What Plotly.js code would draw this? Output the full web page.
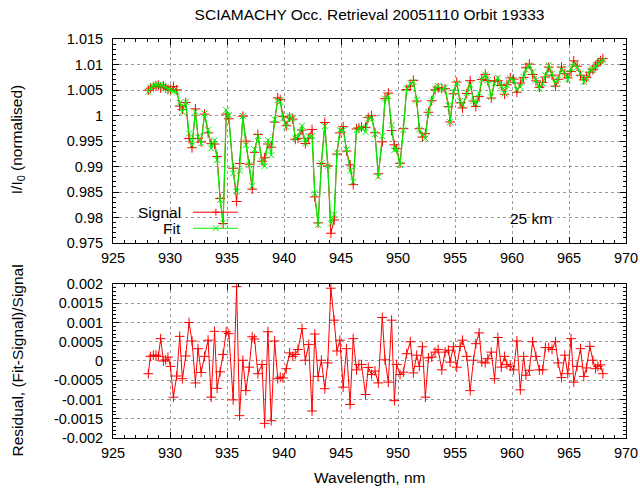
<!DOCTYPE html>
<html>
<head>
<meta charset="utf-8">
<script src="https://cdn.plot.ly/plotly-3.0.1.min.js"></script>
<style>html,body{margin:0;padding:0;background:#fff;}#chart{width:640px;height:490px;}</style>
</head>
<body>
<div id="chart"></div>
<script>
// Wavelength, nm
var wavelength = [928.10,928.28,928.54,928.77,928.98,929.18,929.42,929.62,929.82,930.04,930.30,930.59,930.85,931.09,931.38,931.67,931.93,932.23,932.46,932.73,933.03,933.34,933.61,933.91,934.13,934.40,934.66,934.93,935.16,935.54,935.84,936.10,936.39,936.66,936.95,937.21,937.42,937.71,938.07,938.30,938.59,938.88,939.18,939.45,939.67,939.91,940.20,940.50,940.77,940.99,941.23,941.58,941.87,942.17,942.46,942.70,942.99,943.28,943.58,943.84,944.11,944.40,944.64,944.90,945.19,945.48,945.80,946.07,946.36,946.57,946.80,947.15,947.39,947.68,947.98,948.27,948.62,948.86,949.15,949.44,949.68,949.88,950.18,950.47,950.76,951.08,951.35,951.64,951.87,952.14,952.40,952.67,952.96,953.25,953.52,953.84,954.13,954.42,954.57,954.86,955.15,955.45,955.66,956.03,956.33,956.62,956.83,957.12,957.35,957.65,957.88,958.18,958.47,958.76,959.06,959.35,959.55,959.85,960.14,960.43,960.73,961.02,961.22,961.52,961.81,962.10,962.40,962.69,962.93,963.22,963.51,963.81,964.04,964.34,964.63,964.89,965.18,965.42,965.71,966.01,966.30,966.53,966.83,967.09,967.33,967.53,967.77,967.97];

// I/I0 measured signal
var signal = [1.00496,1.00536,1.00565,1.00585,1.00594,1.00542,1.00580,1.00545,1.00512,1.00509,1.00570,1.00502,1.00184,1.00118,1.00254,0.99548,0.99368,1.00129,0.99551,0.99482,1.00027,0.99659,0.99448,0.99440,0.99197,0.98372,0.97883,1.00028,0.99935,0.98966,0.98314,0.99060,0.99985,0.99497,0.99044,0.98555,0.99278,0.99629,0.99103,0.99171,0.99441,0.99379,0.99870,1.00346,1.00309,0.99985,0.99798,0.99966,0.99929,0.99533,0.99553,0.99714,0.99450,0.99553,0.99726,0.98404,0.97895,0.99059,0.99863,0.99014,0.97692,0.97951,0.99244,0.99659,0.99781,0.99303,0.99031,0.98644,0.99736,0.99755,0.99774,0.99767,0.99958,0.99996,0.99661,0.98857,0.99483,1.00329,1.00440,0.99705,0.99425,0.99350,0.99063,0.99742,1.00509,1.00576,1.00689,1.00285,0.99740,0.99578,0.99644,1.00064,1.00290,1.00505,1.00544,1.00531,1.00525,1.00174,0.99873,1.00426,1.00655,1.00249,1.00148,1.00431,1.00683,1.00285,1.00177,1.00370,1.00707,1.00807,1.00685,1.00342,1.00672,1.00682,1.00590,1.00418,1.00602,1.00738,1.00714,1.00456,1.00636,1.00744,1.00937,1.01008,1.00804,1.00679,1.00551,1.00649,1.00754,1.00949,1.00791,1.00576,1.00709,1.00949,1.00819,1.00737,1.00861,1.01072,1.00966,1.00789,1.00698,1.00742,1.00849,1.00898,1.00972,1.01031,1.01073,1.01115];

// I/I0 fitted
var fit = [1.00463,1.00548,1.00580,1.00600,1.00606,1.00600,1.00580,1.00548,1.00522,1.00495,1.00476,1.00463,1.00248,1.00072,1.00267,0.99648,0.99420,1.00072,0.99583,0.99452,1.00039,0.99713,0.99354,0.99517,0.99126,0.98344,0.97900,1.00104,1.00006,0.98865,0.98507,0.98918,0.99987,0.99420,0.99028,0.98618,0.99335,0.99596,0.99094,0.99009,0.99517,0.99224,0.99922,1.00300,1.00267,0.99941,0.99778,0.99987,0.99941,0.99550,0.99583,0.99798,0.99452,0.99596,0.99596,0.98474,0.97855,0.99061,0.99791,0.99009,0.97881,0.98057,0.99270,0.99713,0.99713,0.99335,0.98918,0.98702,0.99713,0.99746,0.99765,0.99680,0.99941,0.99961,0.99635,0.98800,0.99596,1.00332,1.00385,0.99811,0.99322,0.99341,0.99028,0.99713,1.00528,1.00626,1.00658,1.00300,0.99726,0.99615,0.99550,1.00072,1.00300,1.00528,1.00574,1.00508,1.00548,1.00202,0.99870,1.00463,1.00639,1.00287,1.00202,1.00443,1.00606,1.00287,1.00222,1.00443,1.00704,1.00802,1.00691,1.00365,1.00626,1.00743,1.00574,1.00430,1.00593,1.00724,1.00691,1.00508,1.00561,1.00756,1.00900,1.00984,1.00854,1.00691,1.00528,1.00626,1.00789,1.00984,1.00821,1.00626,1.00704,1.00906,1.00834,1.00704,1.00919,1.01017,1.00952,1.00821,1.00658,1.00724,1.00887,1.00900,1.00952,1.01017,1.01063,1.01082];

// Residual (Fit-Signal)/Signal
var residual = [-0.00033,0.00012,0.00015,0.00015,0.00012,0.00058,0,0.00003,0.0001,-0.00014,-0.00094,-0.00039,0.00064,-0.00046,0.00013,0.001,0.00052,-0.00057,0.00032,-0.0003,0.00012,0.00054,-0.00094,0.00077,-0.00071,-0.00028,0.00017,0.00076,0.00071,-0.00101,0.00193,-0.00142,0.00002,-0.00077,-0.00016,0.00063,0.00057,-0.00033,-0.00009,-0.00162,0.00076,-0.00155,0.00052,-0.00046,-0.00042,-0.00044,-0.0002,0.00021,0.00012,0.00017,0.0003,0.00084,0.00002,0.00043,-0.0013,0.0007,-0.0004,0.00002,-0.00072,-0.00005,0.00189,0.00106,0.00026,0.00054,-0.00068,0.00032,-0.00113,0.00058,-0.00023,-0.00009,-0.00009,-0.00087,-0.00017,-0.00035,-0.00026,-0.00057,0.00113,0.00003,-0.00055,0.00106,-0.00103,-0.00009,-0.00035,-0.00029,0.00019,0.0005,-0.00031,0.00015,-0.00014,0.00037,-0.00094,0.00008,0.0001,0.00023,0.0003,-0.00023,0.00023,0.00028,-0.00003,0.00037,-0.00016,0.00038,0.00054,0.00012,-0.00077,0.00002,0.00045,0.00073,-0.00003,-0.00005,0.00006,0.00023,-0.00046,0.00061,-0.00016,0.00012,-0.00009,-0.00014,-0.00023,0.00052,-0.00075,0.00012,-0.00037,-0.00024,0.0005,0.00012,-0.00023,-0.00023,0.00035,0.00035,0.0003,0.0005,-0.00005,-0.00043,0.00015,-0.00033,0.00058,-0.00055,-0.00014,0.00032,-0.0004,-0.00018,0.00038,0.00002,-0.0002,-0.00014,-0.0001,-0.00033];

// Tick labels
var xTickVals = [925,930,935,940,945,950,955,960,965,970];
var xTickText = ["925","930","935","940","945","950","955","960","965","970"];
var yTopTickVals = [0.975,0.98,0.985,0.99,0.995,1,1.005,1.01,1.015];
var yTopTickText = ["0.975","0.98","0.985","0.99","0.995","1","1.005","1.01","1.015"];
var yBotTickVals = [-0.002,-0.0015,-0.001,-0.0005,0,0.0005,0.001,0.0015,0.002];
var yBotTickText = ["-0.002","-0.0015","-0.001","-0.0005","0","0.0005","0.001","0.0015","0.002"];

var FONT = "Liberation Sans, Arial, Helvetica, sans-serif";
var TICKSIZE = 14.5, TEXTSIZE = 15.5;
var RED = "#ff0000", GREEN = "#00ee00";

var traces = [
  {x: wavelength, y: signal, xaxis: "x", yaxis: "y", type: "scatter", mode: "lines+markers", name: "Signal",
   line: {color: RED, width: 1}, marker: {symbol: "cross-thin-open", size: 7, color: RED, line: {color: RED, width: 1}}},
  {x: wavelength, y: fit, xaxis: "x", yaxis: "y", type: "scatter", mode: "lines+markers", name: "Fit",
   line: {color: GREEN, width: 1.2}, marker: {symbol: "x-thin-open", size: 6, color: GREEN, line: {color: GREEN, width: 1}}},
  {x: wavelength, y: residual, xaxis: "x2", yaxis: "y2", type: "scatter", mode: "lines+markers", name: "Residual",
   line: {color: RED, width: 1}, marker: {symbol: "cross-thin-open", size: 7, color: RED, line: {color: RED, width: 1}}}
];

function xAxis(anchor) {
  return {anchor: anchor, domain: [0, 1], range: [925, 970], tickmode: "array", tickvals: xTickVals, ticktext: xTickText,
    ticks: "inside", ticklen: 6, tickcolor: "#000", mirror: "allticks", showline: true, linecolor: "#000", linewidth: 1,
    showgrid: true, gridcolor: "#9a9a9a", griddash: "dot", gridwidth: 1, zeroline: false, ticklabelstandoff: 2,
    tickfont: {family: FONT, size: TICKSIZE, color: "#000"},
    minor: {tickmode: "linear", tick0: 925, dtick: 1, ticks: "inside", ticklen: 3, tickcolor: "#000", showgrid: false}};
}
function yAxis(anchor, domain, range, vals, text, minorTick0, minorDtick) {
  return {anchor: anchor, domain: domain, range: range, tickmode: "array", tickvals: vals, ticktext: text,
    ticks: "inside", ticklen: 6, tickcolor: "#000", mirror: "allticks", showline: true, linecolor: "#000", linewidth: 1,
    showgrid: true, gridcolor: "#9a9a9a", griddash: "dot", gridwidth: 1, zeroline: false, ticklabelstandoff: 6,
    tickfont: {family: FONT, size: TICKSIZE, color: "#000"},
    minor: {tickmode: "linear", tick0: minorTick0, dtick: minorDtick, ticks: "inside", ticklen: 3, tickcolor: "#000", showgrid: false}};
}

var legX = 0.2006, legSigY = 0.5659, legFitY = 0.5257;
var layout = {
  width: 640, height: 490,
  margin: {l: 113, r: 14, t: 39, b: 52},
  paper_bgcolor: "#fff", plot_bgcolor: "#fff",
  showlegend: false,
  font: {family: FONT, size: TEXTSIZE, color: "#000"},
  title: {text: "SCIAMACHY Occ. Retrieval 20051110 Orbit 19333", font: {family: FONT, size: TEXTSIZE, color: "#000"},
          xref: "paper", x: 0.5, xanchor: "center", yref: "container", y: 0.970, yanchor: "middle"},
  xaxis: xAxis("y"),
  yaxis: yAxis("x", [0.4887, 1], [0.975, 1.015], yTopTickVals, yTopTickText, 0.975, 0.001),
  xaxis2: xAxis("y2"),
  yaxis2: yAxis("x2", [0, 0.386], [-0.002, 0.002], yBotTickVals, yBotTickText, -0.002, 0.0001),
  annotations: [
    {text: "I/I<sub>0</sub> (normalised)", xref: "paper", yref: "paper", x: -0.187, y: 0.7465, textangle: -90,
     showarrow: false, xanchor: "center", yanchor: "middle", font: {family: FONT, size: TEXTSIZE, color: "#000"}},
    {text: "Residual, (Fit-Signal)/Signal", xref: "paper", yref: "paper", x: -0.187, y: 0.1945, textangle: -90,
     showarrow: false, xanchor: "center", yanchor: "middle", font: {family: FONT, size: TEXTSIZE, color: "#000"}},
    {text: "Wavelength, nm", xref: "paper", yref: "paper", x: 0.5, y: -0.0991, showarrow: false,
     xanchor: "center", yanchor: "middle", font: {family: FONT, size: TEXTSIZE, color: "#000"}},
    {text: "Signal", xref: "paper", yref: "paper", x: 0.1363, y: legSigY, showarrow: false,
     xanchor: "right", yanchor: "middle", font: {family: FONT, size: TEXTSIZE, color: "#000"}},
    {text: "Fit", xref: "paper", yref: "paper", x: 0.1363, y: legFitY, showarrow: false,
     xanchor: "right", yanchor: "middle", font: {family: FONT, size: TEXTSIZE, color: "#000"}},
    {text: "25 km", xref: "paper", yref: "paper", x: 0.815, y: 0.550, showarrow: false,
     xanchor: "center", yanchor: "middle", font: {family: FONT, size: TEXTSIZE, color: "#000"}}
  ],
  shapes: [
    {type: "line", xref: "paper", yref: "paper", x0: 0.1558, x1: 0.2434, y0: legSigY, y1: legSigY, line: {color: RED, width: 1}},
    {type: "line", xref: "paper", yref: "paper", x0: 0.1558, x1: 0.2434, y0: legFitY, y1: legFitY, line: {color: GREEN, width: 1.2}},
    {type: "line", xref: "paper", yref: "paper", xsizemode: "pixel", ysizemode: "pixel", xanchor: legX, yanchor: legSigY,
     x0: -3.5, x1: 3.5, y0: 0, y1: 0, line: {color: RED, width: 1}},
    {type: "line", xref: "paper", yref: "paper", xsizemode: "pixel", ysizemode: "pixel", xanchor: legX, yanchor: legSigY,
     x0: 0, x1: 0, y0: -3.5, y1: 3.5, line: {color: RED, width: 1}},
    {type: "line", xref: "paper", yref: "paper", xsizemode: "pixel", ysizemode: "pixel", xanchor: legX, yanchor: legFitY,
     x0: -3, x1: 3, y0: -3, y1: 3, line: {color: GREEN, width: 1}},
    {type: "line", xref: "paper", yref: "paper", xsizemode: "pixel", ysizemode: "pixel", xanchor: legX, yanchor: legFitY,
     x0: -3, x1: 3, y0: 3, y1: -3, line: {color: GREEN, width: 1}}
  ]
};

Plotly.newPlot("chart", traces, layout, {staticPlot: true, displayModeBar: false});
</script>
</body>
</html>
